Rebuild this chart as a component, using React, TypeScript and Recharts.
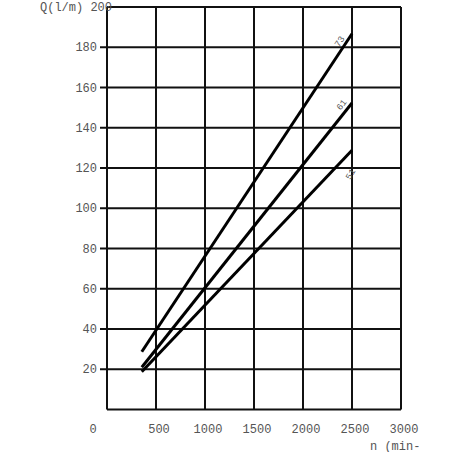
import { LineChart, Line, XAxis, YAxis, CartesianGrid } from 'recharts'

// n (min-1) against Q (l/m), one line per pump size
const rpm = [355, 2500]
const q73 = [28.7, 186.7]
const q61 = [21, 152.3]
const q51 = [18.8, 128.8]
const names = ['73', '61', '51']
const xTicks = [0, 500, 1000, 1500, 2000, 2500, 3000]
const yTicks = [0, 20, 40, 60, 80, 100, 120, 140, 160, 180, 200]

const data = rpm.map((n, i) => ({ n, q73: q73[i], q61: q61[i], q51: q51[i] }))

const font = '"Liberation Mono", "Courier New", monospace'
const grey = '#555'

function XTick(props: any) {
  const { x, y, payload } = props
  const dx = payload.value === 0 ? -14 : 3
  return (
    <text x={x + dx} y={y} dy={15} textAnchor="middle" fontFamily={font} fontSize={12} fill={grey}>
      {payload.value}
    </text>
  )
}

function YTick(props: any) {
  const { x, y, payload } = props
  if (payload.value === 0) return null
  const axisX = x + 8
  if (payload.value === 200) {
    return (
      <text x={axisX - 67} y={y} dy={4} fontFamily={font} fontSize={12} fill={grey}>
        Q(l/m) 200
      </text>
    )
  }
  return (
    <g>
      <line x1={axisX - 7} x2={axisX} y1={y} y2={y} stroke="#111" strokeWidth={2} />
      <text x={axisX - 10} y={y} dy={4} textAnchor="end" fontFamily={font} fontSize={12} fill={grey}>
        {payload.value}
      </text>
    </g>
  )
}

function endLabel(name: string, dx: number, dy: number, angle: number) {
  return (props: any) => {
    const { x, y, index } = props
    if (index !== rpm.length - 1) return null
    const lx = x + dx
    const ly = y + dy
    return (
      <text x={lx} y={ly} textAnchor="middle" dominantBaseline="middle" fontFamily={font} fontSize={9} fill={grey}
        transform={`rotate(${angle} ${lx} ${ly})`}>
        {name}
      </text>
    )
  }
}

function AxisTitle(props: any) {
  const { viewBox } = props
  return (
    <text x={viewBox.x + viewBox.width - 31} y={viewBox.y + 40} fontFamily={font} fontSize={12} fill={grey}>
      n (min-1)
    </text>
  )
}

export default function App() {
  return (
    <div style={{ position: 'absolute', left: 0, top: 0, width: 452, height: 452, background: '#fff' }}>
      <div style={{ width: 419, height: 452, overflow: 'hidden' }}>
        <LineChart width={419} height={452} data={data} margin={{ top: 7, right: 18, bottom: 0, left: 0 }}>
          <CartesianGrid stroke="#111" strokeWidth={2} horizontalValues={yTicks} verticalValues={xTicks} />
          <XAxis dataKey="n" type="number" domain={[0, 3000]} ticks={xTicks} axisLine={false} tickLine={false}
            height={42.5} tick={<XTick />} interval={0} label={<AxisTitle />} />
          <YAxis type="number" domain={[0, 200]} ticks={yTicks} axisLine={false} tickLine={false}
            width={107} tick={<YTick />} interval={0} />
          <Line type="linear" dataKey="q73" stroke="#000" strokeWidth={3} dot={false} isAnimationActive={false}
            label={endLabel(names[0], -12, 8, -57)} />
          <Line type="linear" dataKey="q61" stroke="#000" strokeWidth={3} dot={false} isAnimationActive={false}
            label={endLabel(names[1], -10, 2, -52)} />
          <Line type="linear" dataKey="q51" stroke="#000" strokeWidth={3} dot={false} isAnimationActive={false}
            label={endLabel(names[2], -1, 24, -60)} />
        </LineChart>
      </div>
    </div>
  )
}
